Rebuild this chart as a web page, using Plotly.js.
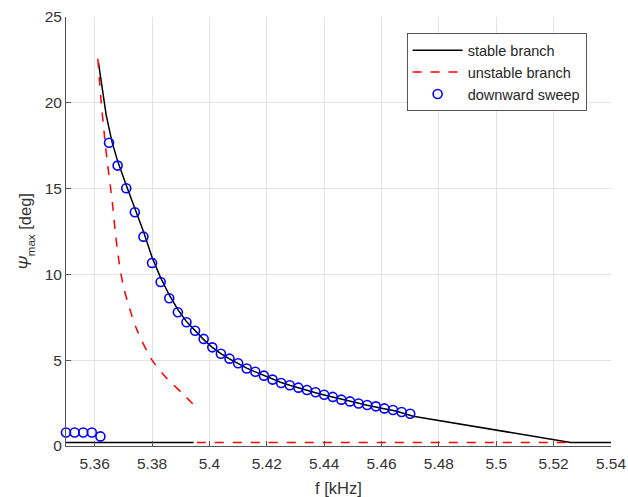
<!DOCTYPE html>
<html><head><meta charset="utf-8">
<script src="https://cdn.plot.ly/plotly-3.0.1.min.js"></script>
<style>html,body{margin:0;padding:0;background:#fff}#chart{width:628px;height:497px}</style>
</head><body><div id="chart"></div>
<script>
// stable branch (upper curve + trivial-solution segments, null = gap)
const stableF   = [5.3613,5.3625,5.364,5.366,5.368,5.371,5.374,5.377,5.380,5.383,5.386,5.389,5.392,5.395,5.398,5.401,5.404,5.407,5.410,5.413,5.416,5.419,5.422,5.425,5.428,5.431,5.434,5.437,5.440,5.445,5.450,5.455,5.460,5.465,5.471,5.480,5.490,5.500,5.510,5.520,5.5259,5.54,null,5.35,5.3945];
const stablePsi = [22.35,20.9,19.3,17.75,16.6,15.2,13.9,12.5,11.0,9.8,8.8,7.95,7.25,6.7,6.2,5.75,5.38,5.08,4.8,4.54,4.32,4.1,3.89,3.7,3.54,3.38,3.23,3.1,2.97,2.76,2.56,2.37,2.2,2.04,1.73,1.48,1.2,0.93,0.66,0.38,0.21,0.21,null,0.21,0.21];
// unstable branch
const unstableF   = [5.3611,5.3622,5.3633,5.3645,5.3655,5.3663,5.3671,5.3682,5.3700,5.3723,5.3747,5.3799,5.3845,5.3904,5.3956,null,5.3956,5.5259];
const unstablePsi = [22.57,20.19,18.25,16.4,15.1,13.97,12.61,11.06,9.31,7.95,6.78,5.03,4.06,3.09,2.22,null,0.21,0.21];
// downward sweep measurements
const sweepF   = [5.350,5.353,5.356,5.359,5.362,5.365,5.368,5.371,5.374,5.377,5.380,5.383,5.386,5.389,5.392,5.395,5.398,5.401,5.404,5.407,5.410,5.413,5.416,5.419,5.422,5.425,5.428,5.431,5.434,5.437,5.440,5.443,5.446,5.449,5.452,5.455,5.458,5.461,5.464,5.467,5.470];
const sweepPsi = [0.79,0.79,0.79,0.79,0.56,17.67,16.34,15.02,13.62,12.2,10.67,9.56,8.61,7.79,7.21,6.72,6.24,5.75,5.38,5.09,4.82,4.52,4.33,4.10,3.87,3.67,3.54,3.40,3.26,3.13,2.99,2.86,2.70,2.60,2.48,2.39,2.31,2.19,2.10,1.98,1.88];
const xTickVals = [5.36,5.38,5.40,5.42,5.44,5.46,5.48,5.50,5.52,5.54];
const xTickText = ["5.36","5.38","5.4","5.42","5.44","5.46","5.48","5.5","5.52","5.54"];
const yTickVals = [0,5,10,15,20,25];

const font = "Liberation Sans, Arial, sans-serif";
const traces = [
  {x: stableF, y: stablePsi, mode: "lines", name: "stable branch", connectgaps: false,
   line: {color: "#000000", width: 1.5}},
  {x: unstableF, y: unstablePsi, mode: "lines", name: "unstable branch", connectgaps: false,
   line: {color: "#ff0000", width: 1.5, dash: "dash", shape: "spline", smoothing: 0.8}},
  {x: sweepF, y: sweepPsi, mode: "markers", name: "downward sweep", cliponaxis: false,
   marker: {symbol: "circle-open", size: 9, color: "#0000ff", line: {color: "#0000ff", width: 1.6}}}
];
const layout = {
  width: 628, height: 497,
  margin: {l: 66, r: 17, t: 17, b: 51},
  paper_bgcolor: "#fff", plot_bgcolor: "#fff",
  font: {family: font, color: "#333333", size: 15},
  showlegend: true,
  legend: {x: 0.625, y: 0.962, xanchor: "left", yanchor: "top",
    bgcolor: "#ffffff", bordercolor: "#555555", borderwidth: 1,
    itemwidth: 50, tracegroupgap: 0,
    font: {family: font, size: 14.5, color: "#262626"}},
  xaxis: {range: [5.35, 5.54], tickvals: xTickVals, ticktext: xTickText,
    showgrid: true, gridcolor: "#e3e3e3", gridwidth: 1, zeroline: false,
    showline: true, linecolor: "#555555", linewidth: 1, mirror: false,
    ticks: "inside", ticklen: 5, tickcolor: "#555555", ticklabelstandoff: 3,
    tickfont: {size: 15.5, color: "#333333"},
    title: {text: "f [kHz]", font: {size: 16.5, color: "#333333"}, standoff: 12}},
  yaxis: {range: [0, 25], tickvals: yTickVals,
    showgrid: true, gridcolor: "#e3e3e3", gridwidth: 1, zeroline: false,
    showline: true, linecolor: "#555555", linewidth: 1, mirror: false,
    ticks: "inside", ticklen: 5, tickcolor: "#555555",
    tickfont: {size: 15.5, color: "#333333"},
    title: {text: "<i>Ψ</i><sub>max</sub> [deg]", font: {size: 16.5, color: "#333333"}, standoff: 8}}
};
Plotly.newPlot("chart", traces, layout, {staticPlot: true, displayModeBar: false});
</script></body></html>
